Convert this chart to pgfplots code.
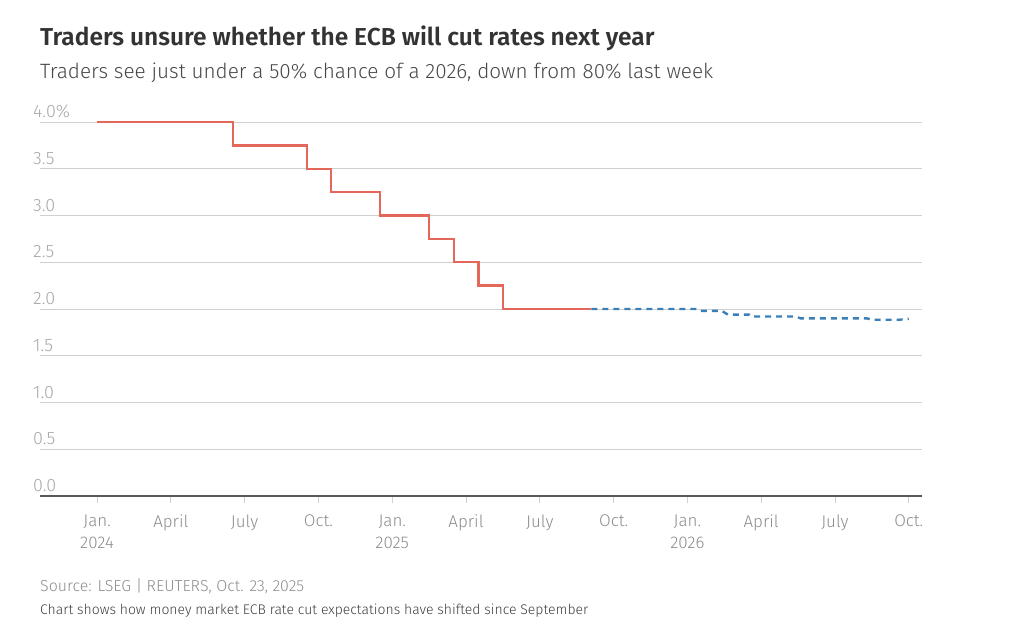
\documentclass[border=0pt]{standalone}
\usepackage{fontspec}
\setmainfont{Fira Sans}[UprightFont=* Light, BoldFont=* SemiBold]
\usepackage{pgfplots}
\pgfplotsset{compat=1.18}
\definecolor{ratered}{HTML}{E3685A}
\definecolor{rateblue}{HTML}{3A7FB8}
\definecolor{gridgray}{HTML}{D0D0D0}
\definecolor{labgray}{HTML}{8C8C8C}
\definecolor{ylabgray}{HTML}{A8A8A8}
\definecolor{titlegray}{HTML}{333333}
\begin{document}
\begin{tikzpicture}[x=1bp,y=1bp]
\path[use as bounding box] (0,0) rectangle (1025,-640);
\node[anchor=base west,inner sep=0,text=titlegray,font=\fontsize{24.6}{28}\selectfont\bfseries] at (40,-46) {Traders unsure whether the ECB will cut rates next year};
\node[anchor=base west,inner sep=0,text=titlegray!90,font=\fontsize{20.8}{24}\selectfont] at (40,-79) {Traders see just under a 50\% chance of a 2026, down from 80\% last week};
\node[anchor=base west,inner sep=0,text=labgray,font=\fontsize{16}{19}\selectfont] at (40,-591) {Source: LSEG | REUTERS, Oct. 23, 2025};
\node[anchor=base west,inner sep=0,text=titlegray!95,font=\fontsize{14}{17}\selectfont] at (40,-614) {Chart shows how money market ECB rate cut expectations have shifted since September};
\begin{axis}[
at={(40bp,-496bp)}, anchor=south west,
scale only axis,
width=882bp, height=392.7bp,
xmin=-2.32, xmax=33.54,
ymin=0, ymax=4.2,
axis x line*=bottom,
axis y line*=left,
y axis line style={draw=none},
x axis line style={draw=black!65, line width=1.2pt, -},
ymajorgrids,
grid style={gridgray, line width=0.9pt},
ytick={0,0.5,...,4.0},
yticklabels={0.0,0.5,1.0,1.5,2.0,2.5,3.0,3.5,4.0\%},
yticklabel style={anchor=south west, inner sep=0pt, xshift=0pt, yshift=4bp, text=ylabgray, font=\fontsize{18}{21}\selectfont},
ytick style={draw=none},
xtick={0,3,...,33},
xticklabels={Jan.\\2024,April,July,Oct.,Jan.\\2025,April,July,Oct.,Jan.\\2026,April,July,Oct.},
xticklabel style={align=center, text=labgray, font=\fontsize{17}{22}\selectfont, yshift=-8bp},
tick align=outside,
major tick length=7bp,
xtick style={draw=gridgray, line width=0.9pt},
clip=false,
]
\addplot[const plot, ratered, line width=2.4pt] coordinates {
(0,4.0) (5.53,3.75) (8.54,3.5) (9.51,3.25) (11.5,3.0) (13.5,2.75) (14.5,2.5) (15.5,2.25) (16.5,2.0) (20.1,2.0)
};
\addplot[rateblue, line width=2.4pt, dash pattern=on 6bp off 5bp] coordinates {
(20.1,2.0) (24.4,2.0) (24.5,1.98) (25.4,1.98) (25.65,1.94) (26.5,1.94) (26.6,1.92) (28.4,1.92) (28.6,1.90) (31.3,1.90) (31.5,1.885) (32.6,1.885) (33,1.895)
};
\end{axis}
\end{tikzpicture}
\end{document}
